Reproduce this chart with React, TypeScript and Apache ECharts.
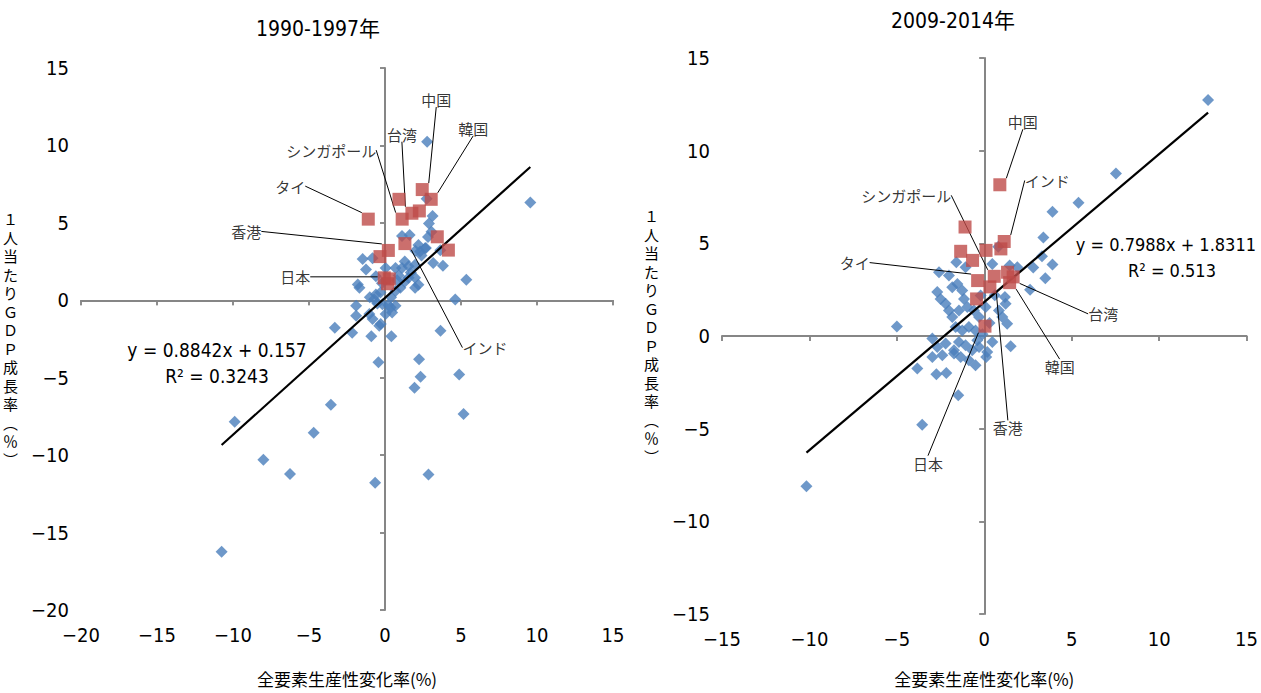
import React, { useEffect, useRef } from 'react';
import * as echarts from 'echarts';

// ---------- 1990-1997 ----------
const title1990 = '1990-1997年';
const blue1990: number[][] = [
  [2.77, 10.23], [9.56, 6.32], [5.35, 1.32], [4.62, 0.05], [3.65, -1.96], [2.24, -3.8], [2.34, -4.93],
  [1.94, -5.64], [4.88, -4.79], [5.17, -7.34], [2.86, -11.25], [-0.65, -11.79], [-0.43, -4.0],
  [0.42, -2.32], [-0.38, -1.64], [-3.3, -1.78], [-2.16, -2.1], [-0.9, -2.32], [-3.56, -6.75],
  [-4.69, -8.56], [-6.25, -11.22], [-8.0, -10.29], [-9.89, -7.85], [-10.75, -16.24],
  [2.74, 6.55], [3.13, 5.45], [2.89, 4.96], [3.06, 4.43], [1.12, 4.15], [1.62, 4.21], [-1.47, 2.66],
  [-0.82, 2.72], [-1.25, 1.98], [-1.79, 1.02], [-1.68, 0.81], [-0.6, 1.55], [0.04, 2.09], [0.69, 2.09],
  [1.12, 2.09], [1.55, 2.19], [1.98, 2.3], [2.31, 3.15], [2.63, 3.36], [2.2, 3.57], [3.17, 2.4],
  [3.81, 2.23], [1.98, 0.81], [1.98, 1.45], [1.55, 1.45], [1.01, 0.81], [0.69, 0.6], [-0.6, 0.38],
  [-0.71, 0.06], [-1.9, -0.36], [-1.9, -1.0], [-1.03, -0.89], [-0.82, -1.21], [-0.28, -1.53],
  [0.04, -0.89], [0.47, -0.79], [0.69, -0.36], [0.37, -0.47], [-0.17, -0.26], [2.69, 3.37],
  [2.83, 4.08], [3.64, 3.23], [1.3, 2.5], [0.9, 1.6], [1.3, 1.2], [1.7, 1.8], [2.4, 2.9], [2.0, 3.2],
  [0.4, 0.2], [-0.3, 0.5], [-1.0, 0.2], [-0.5, -0.2], [0.2, -0.3], [0.8, 1.3], [-0.2, 1.1], [2.2, 1.0],
];
const asia1990: number[][] = [
  [-1.1, 5.24], [0.92, 6.52], [1.13, 5.24], [1.77, 5.62], [2.26, 5.77], [2.45, 7.15], [3.04, 6.52],
  [3.44, 4.1], [4.17, 3.24], [1.31, 3.66], [0.22, 3.22], [-0.33, 2.82], [-0.05, 1.45], [0.28, 1.38],
  [0.17, 1.07],
];
const asiaNames1990: string[] = [
  'タイ', '', 'シンガポール', '台湾', '', '中国', '韓国', '', '', 'インド', '香港', '', '日本', '', '',
];
const labelOffsets1990: number[][] = [
  [-78, -33], [0, 0], [-71, -69], [-10, -79], [0, 0], [14, -90], [42, -71], [0, 0], [0, 0],
  [80, 104], [-142, -19], [0, 0], [-89, -1], [0, 0], [0, 0],
];
const slope1990 = 0.8842;
const intercept1990 = 0.157;
const eq1990 = 'y = 0.8842x + 0.157';
const r21990 = 'R² = 0.3243';

// ---------- 2009-2014 ----------
const title2009 = '2009-2014年';
const blue2009: number[][] = [
  [12.8, 12.74], [7.53, 8.77], [5.39, 7.19], [3.9, 6.71], [3.38, 5.32], [3.3, 4.3], [3.9, 3.86],
  [3.49, 3.12], [2.8, 3.69], [2.62, 2.49], [1.51, -0.55], [-5.0, 0.51], [-3.83, -1.75], [-3.55, -4.79],
  [-10.17, -8.11], [-1.49, -3.2],
  [1.89, 3.71], [1.45, 3.8], [0.46, 3.89], [0.8, 4.82], [-1.6, 3.98], [-1.07, 3.71], [-2.59, 3.44],
  [-2.02, 3.26], [-1.54, 2.81], [-1.26, 2.46], [-1.83, 2.63], [-2.69, 2.37], [-2.5, 2.0], [-2.21, 1.74],
  [-2.02, 1.38], [-1.83, 1.02], [-1.45, 1.38], [-0.97, 1.56], [-0.59, 1.38], [0.08, 1.56], [0.84, 1.38],
  [1.22, 1.74], [1.18, 2.1], [1.03, 1.02], [1.31, 0.66], [-0.3, 1.02], [-0.88, 0.48], [-1.26, 0.3],
  [-1.64, 0.48], [-0.5, 0.3], [-2.97, -0.14], [-2.69, -0.59], [-2.21, -0.41], [-1.73, -0.77],
  [-1.45, -0.32], [-1.07, -0.5], [-0.69, -0.77], [-0.4, -0.23], [0.17, -0.86], [0.46, -0.32],
  [-2.97, -1.13], [-2.4, -1.04], [-1.73, -0.95], [-1.35, -1.13], [-0.88, -1.31], [-0.5, -1.58],
  [0.11, -1.13], [-2.74, -2.06], [-2.17, -1.99], [-1.16, 2.0], [-0.21, 2.19], [0.3, 0.7], [-0.1, 0.1],
  [0.6, 2.2], [-0.3, -0.6],
];
const asia2009: number[][] = [
  [0.89, 8.16], [1.14, 5.1], [0.57, 3.22], [-0.38, 2.99], [1.65, 3.19], [1.45, 2.88], [0.32, 2.65],
  [0.04, 0.53], [-1.1, 5.88], [-1.35, 4.57], [0.1, 4.62], [0.95, 4.7], [-0.67, 4.08], [1.33, 3.44],
  [-0.44, 2.0],
];
const asiaNames2009: string[] = [
  '中国', 'インド', 'シンガポール', 'タイ', '台湾', '韓国', '香港', '日本', '', '', '', '', '', '', '',
];
const labelOffsets2009: number[][] = [
  [23, -63], [43, -61], [-88, -81], [-123, -18], [90, 37], [50, 84], [18, 141], [-57, 137],
  [0, 0], [0, 0], [0, 0], [0, 0], [0, 0], [0, 0], [0, 0],
];
const slope2009 = 0.7988;
const intercept2009 = 1.8311;
const eq2009 = 'y = 0.7988x + 1.8311';
const r22009 = 'R² = 0.513';

const xName = '全要素生産性変化率(%)';
const yNameChars = ['１', '人', '当', 'た', 'り', 'Ｇ', 'Ｄ', 'Ｐ', '成', '長', '率', '︵', '％', '︶'];

const AXIS_GRAY = '#868686';
const BLUE = '#4A7EBB';
const RED = '#BE4B48';
const NUM_FONT = "'Liberation Sans Narrow', 'DejaVu Sans Condensed', 'Noto Sans CJK JP', sans-serif";
const JP_FONT = "'Noto Sans CJK JP', sans-serif";

function fitLine(points: number[][], slope: number, intercept: number) {
  const xs = points.map((p) => p[0]);
  const lo = Math.min(...xs);
  const hi = Math.max(...xs);
  return [[lo, slope * lo + intercept], [hi, slope * hi + intercept]];
}

function axesFor(gridIndex: number, min: number, max: number, isX: boolean, nameGap: number) {
  const base = { type: 'value', gridIndex, min, max, interval: 5, splitLine: { show: false } };
  return [
    {
      ...base,
      axisLine: { show: true, onZero: true, lineStyle: { color: AXIS_GRAY, width: 2 } },
      axisTick: { show: true, inside: false, length: 5, lineStyle: { color: AXIS_GRAY, width: 1.5 } },
      axisLabel: { show: false },
    },
    {
      ...base,
      position: isX ? 'bottom' : 'left',
      axisLine: { show: false, onZero: false },
      axisTick: { show: false },
      axisLabel: {
        show: true,
        color: '#000',
        fontSize: 20,
        fontFamily: NUM_FONT,
        margin: isX ? 15 : 12,
        formatter: (v: number) => (v < 0 ? '−' + Math.abs(v) : String(v)),
      },
      name: isX ? xName : yNameChars.join('\n'),
      nameLocation: 'middle',
      nameGap,
      nameRotate: 0,
      nameTextStyle: {
        color: '#000',
        fontSize: isX ? 17 : 15,
        fontFamily: JP_FONT,
        lineHeight: isX ? 20 : 18.5,
      },
    },
    {
      ...base,
      axisLine: { show: false, onZero: true },
      axisTick: { show: true, inside: true, length: 5, lineStyle: { color: AXIS_GRAY, width: 1.5 } },
      axisLabel: { show: false },
    },
  ];
}

function seriesFor(
  axisOffset: number,
  blue: number[][],
  asia: number[][],
  names: string[],
  offsets: number[][],
  slope: number,
  intercept: number
) {
  const all = blue.concat(asia);
  return [
    {
      type: 'scatter',
      xAxisIndex: axisOffset,
      yAxisIndex: axisOffset,
      symbol: 'diamond',
      symbolSize: 12,
      itemStyle: { color: BLUE },
      data: blue,
      z: 2,
    },
    {
      type: 'line',
      xAxisIndex: axisOffset,
      yAxisIndex: axisOffset,
      symbol: 'none',
      lineStyle: { color: '#000', width: 2.2 },
      data: fitLine(all, slope, intercept),
      z: 3,
      silent: true,
    },
    {
      type: 'scatter',
      xAxisIndex: axisOffset,
      yAxisIndex: axisOffset,
      symbol: 'rect',
      symbolSize: 13,
      itemStyle: { color: RED },
      z: 4,
      data: asia.map((p, i) =>
        names[i]
          ? { value: p, name: names[i] }
          : { value: p, name: '', label: { show: false }, labelLine: { show: false } }
      ),
      label: {
        show: true,
        position: 'inside',
        formatter: '{b}',
        color: '#000',
        fontSize: 15,
        fontFamily: JP_FONT,
      },
      labelLine: { show: true, smooth: false, lineStyle: { color: '#000', width: 1 } },
      labelLayout: (params: any) => {
        const o = offsets[params.dataIndex] || [0, 0];
        return { dx: o[0], dy: o[1] };
      },
    },
  ];
}

export default function App() {
  const ref = useRef<HTMLDivElement>(null);
  useEffect(() => {
    if (!ref.current) return;
    const chart = echarts.init(ref.current, undefined, { renderer: 'svg' });
    const option: any = {
      animation: false,
      backgroundColor: '#fff',
      grid: [
        { left: 81, top: 68, width: 532, height: 549 },
        { left: 722, top: 58, width: 526, height: 557 },
      ],
      xAxis: [...axesFor(0, -20, 15, true, 58), ...axesFor(1, -15, 15, true, 54)],
      yAxis: [...axesFor(0, -20, 15, false, 63), ...axesFor(1, -15, 15, false, 63)],
      series: [
        ...seriesFor(0, blue1990, asia1990, asiaNames1990, labelOffsets1990, slope1990, intercept1990),
        ...seriesFor(3, blue2009, asia2009, asiaNames2009, labelOffsets2009, slope2009, intercept2009),
      ],
      graphic: [
        {
          type: 'text', x: 318, y: 29,
          style: { text: title1990, fill: '#000', font: `21px ${NUM_FONT}`, textAlign: 'center', textVerticalAlign: 'middle' },
        },
        {
          type: 'text', x: 953, y: 21,
          style: { text: title2009, fill: '#000', font: `21px ${NUM_FONT}`, textAlign: 'center', textVerticalAlign: 'middle' },
        },
        {
          type: 'text', x: 217, y: 350,
          style: { text: eq1990, fill: '#000', font: `19px ${NUM_FONT}`, textAlign: 'center', textVerticalAlign: 'middle' },
        },
        {
          type: 'text', x: 217, y: 376,
          style: { text: r21990, fill: '#000', font: `19px ${NUM_FONT}`, textAlign: 'center', textVerticalAlign: 'middle' },
        },
        {
          type: 'text', x: 1256, y: 244,
          style: { text: eq2009, fill: '#000', font: `18px ${NUM_FONT}`, textAlign: 'right', textVerticalAlign: 'middle' },
        },
        {
          type: 'text', x: 1172, y: 270,
          style: { text: r22009, fill: '#000', font: `18px ${NUM_FONT}`, textAlign: 'center', textVerticalAlign: 'middle' },
        },
      ],
    };
    chart.setOption(option);
    return () => chart.dispose();
  }, []);
  return (
    <div
      ref={ref}
      style={{ position: 'absolute', left: 0, top: 0, width: 1261, height: 693, background: '#fff' }}
    />
  );
}
